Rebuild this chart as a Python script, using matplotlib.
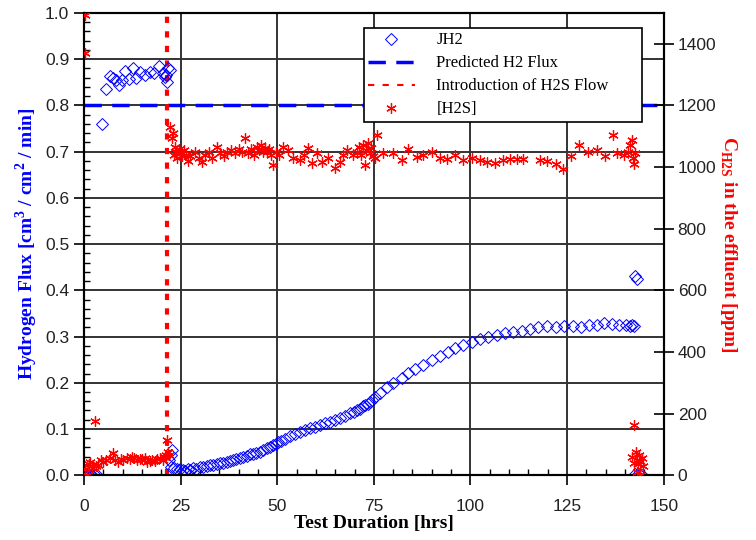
import matplotlib
matplotlib.use("Agg")
import matplotlib.pyplot as plt
from matplotlib.lines import Line2D
from matplotlib.ticker import MultipleLocator

plt.rcParams['mathtext.fontset'] = 'custom'
plt.rcParams['mathtext.rm'] = 'Liberation Serif'
plt.rcParams['mathtext.bf'] = 'Liberation Serif:bold'

# hydrogen flux through the membrane [cm3/cm2/min]
jh2_t = [0.0, 0.3, 0.7, 1.0, 1.4, 1.8, 2.2, 2.6, 3.2, 4.6,
         5.7, 6.7, 7.6, 8.4, 9.1, 9.8, 10.6, 11.7, 12.6, 13.5,
         14.5, 15.8, 17.1, 18.2, 19.4, 20.5, 21.0, 21.2, 21.5, 21.8, 22.2,
         22.1, 22.4, 22.7, 22.5, 23.3, 24.0, 24.8, 25.6, 26.2, 26.9,
         27.5, 28.2, 29.1, 30.0, 30.9, 31.8, 32.6, 33.4, 34.3, 35.2,
         36.1, 37.0, 37.8, 38.5, 39.4, 40.3, 41.2, 42.2, 42.9, 43.7,
         44.6, 45.5, 46.4, 47.3, 48.1, 48.9, 49.6, 50.2, 51.0, 52.0,
         53.3, 54.5, 55.9, 57.1, 58.4, 59.7, 61.0, 62.3, 63.6, 64.9,
         66.2, 67.5, 68.8, 69.8, 70.6, 71.3, 72.1, 72.8, 73.4, 74.0,
         74.6, 75.3, 76.5, 78.4, 79.9, 82.2, 83.8, 85.6, 87.7, 90.0,
         92.1, 94.1, 95.9, 98.0, 100.3, 102.4, 104.5, 106.8, 108.9, 111.0,
         113.3, 115.3, 117.4, 119.7, 122.0, 124.2, 126.4, 128.6, 130.7, 132.8,
         134.5, 136.5, 138.4, 140.2, 141.2, 141.8, 142.2, 142.5, 143.0,
         142.6, 143.2, 143.8, 144.3]
jh2_flux = [0.0, 0.001, 0.0, 0.002, 0.0, 0.001, 0.0, 0.003, 0.002, 0.76,
            0.835, 0.864, 0.859, 0.855, 0.844, 0.855, 0.874, 0.857, 0.881, 0.859,
            0.872, 0.866, 0.872, 0.870, 0.885, 0.870, 0.861, 0.866, 0.851, 0.881, 0.877,
            0.032, 0.043, 0.054, 0.017, 0.015, 0.014, 0.013, 0.011, 0.009, 0.013,
            0.012, 0.015, 0.014, 0.017, 0.018, 0.020, 0.021, 0.022, 0.025, 0.026,
            0.027, 0.028, 0.031, 0.032, 0.035, 0.037, 0.039, 0.041, 0.045, 0.045,
            0.048, 0.050, 0.055, 0.058, 0.062, 0.065, 0.068, 0.071, 0.075, 0.079,
            0.084, 0.089, 0.093, 0.098, 0.102, 0.105, 0.108, 0.112, 0.115, 0.119,
            0.123, 0.128, 0.134, 0.137, 0.141, 0.144, 0.149, 0.152, 0.155, 0.158,
            0.162, 0.169, 0.178, 0.190, 0.199, 0.210, 0.221, 0.229, 0.238, 0.249,
            0.258, 0.266, 0.275, 0.281, 0.288, 0.294, 0.299, 0.303, 0.307, 0.310,
            0.312, 0.316, 0.320, 0.322, 0.321, 0.322, 0.323, 0.321, 0.325, 0.326,
            0.330, 0.327, 0.324, 0.324, 0.322, 0.325, 0.323, 0.430, 0.425,
            0.002, 0.0, 0.001, 0.0]

# H2S concentration in the effluent [ppm]
h2s_t = [0.2, 0.4, 0.3, 0.8, 1.2, 1.6, 2.1, 2.8, 3.1, 3.6,
         4.3, 4.9, 5.8, 6.7, 7.5, 8.1, 8.8, 9.5, 10.1, 11.1,
         11.8, 12.4, 13.0, 13.7, 14.4, 15.0, 15.7, 16.3, 17.0, 17.6,
         18.3, 18.9, 19.7, 20.4, 20.9, 21.2, 21.5, 21.7, 22.0,
         22.2, 23.1, 22.8, 23.5, 23.3, 23.8, 24.2, 24.6, 25.0, 25.4,
         25.8, 26.3, 26.8, 27.5, 28.7, 29.8, 30.5, 31.4, 32.3, 33.2,
         34.4, 35.3, 36.2, 37.1, 38.0, 39.1, 40.0, 40.8, 41.6, 42.5,
         43.3, 44.0, 44.7, 45.2, 45.8, 46.3, 46.8, 47.3, 47.8, 48.3,
         49.0, 49.6, 50.4, 51.5, 52.8, 54.0, 55.9, 57.0, 58.0, 59.0,
         60.3, 61.5, 63.1, 64.9, 66.2, 67.0, 68.0, 69.6, 70.6, 71.2,
         71.6, 72.1, 72.7, 73.0, 73.5, 73.9, 74.3, 74.7, 75.3, 75.8,
         77.3, 79.9, 82.2, 83.8, 86.1, 87.7, 90.0, 92.1, 93.9, 95.9,
         98.0, 100.3, 102.4, 104.2, 106.3, 108.4, 110.2, 112.0, 113.5, 117.9,
         119.7, 122.0, 124.0, 126.0, 128.2, 130.5, 132.7, 134.8, 136.8, 137.9,
         139.8, 140.8, 141.3, 141.7, 142.0, 142.3, 142.6,
         142.4, 141.9, 142.3, 142.7, 143.0, 143.3, 143.6, 143.9, 144.3, 144.7,
         143.2, 143.8]
h2s_ppm = [1495, 1370, 20, 0, 35, 42, 23, 175, 30, 32,
           50, 42, 48, 55, 71, 50, 42, 53, 49, 55,
           52, 58, 55, 49, 53, 52, 56, 42, 47, 49,
           45, 52, 55, 49, 58, 65, 114, 75, 65,
           1130, 1110, 1095, 1065, 1040, 1050, 1030, 1060, 1045, 1035,
           1055, 1040, 1020, 1035, 1050, 1030, 1015, 1040, 1050, 1030,
           1065, 1045, 1035, 1050, 1055, 1045, 1060, 1050, 1094, 1045,
           1060, 1040, 1065, 1055, 1070, 1050, 1062, 1048, 1058, 1040,
           1006, 1050, 1040, 1065, 1055, 1030, 1023, 1040, 1062, 1013,
           1045, 1016, 1030, 997, 1016, 1040, 1055, 1039, 1050, 1065,
           1040, 1072, 1006, 1055, 1078, 1045, 1062, 1035, 1030, 1104,
           1045, 1045, 1023, 1058, 1032, 1039, 1049, 1030, 1026, 1039,
           1023, 1030, 1023, 1016, 1013, 1023, 1026, 1026, 1026, 1023,
           1019, 1010, 995, 1035, 1071, 1050, 1055, 1035, 1104, 1045,
           1040, 1050, 1070, 1088, 1030, 1010, 1045,
           162, 60, 40, 75, 50, 35, 65, 45, 55, 30,
           10, 0]

predicted_flux = 0.8
h2s_start = 21.5

serif = 'Liberation Serif'
sans = 'Liberation Sans'

fig = plt.figure(figsize=(7.56, 5.4), dpi=100)
ax = fig.add_axes([0.111, 0.12, 0.767, 0.856])
ax2 = ax.twinx()

ax.plot(jh2_t, jh2_flux, ls='none', marker='D', ms=6.5, mfc='none',
        mec='blue', mew=0.7, zorder=3)
ax.axhline(predicted_flux, color='blue', lw=2.5, ls=(0, (5, 3)), zorder=2)
ax.axvline(h2s_start, color='red', lw=3, ls=(0, (1.5, 2)), zorder=2)
ax2.plot(h2s_t, h2s_ppm, ls='none', marker=(6, 2, 0), ms=7.5,
         mec='red', mew=0.9, zorder=3)

ax.set_xlim(0, 150)
ax.set_ylim(0, 1.0)
ax2.set_ylim(0, 1500)

ax.xaxis.set_major_locator(MultipleLocator(25))
ax.xaxis.set_minor_locator(MultipleLocator(5))
ax.yaxis.set_major_locator(MultipleLocator(0.1))
ax.yaxis.set_minor_locator(MultipleLocator(0.02))
ax.yaxis.set_major_formatter(plt.FormatStrFormatter('%.1f'))
ax2.set_yticks(range(0, 1401, 200))

ax.grid(True, which='major', color='#333333', lw=1.4)
ax.set_axisbelow(True)

ax.tick_params(which='major', direction='out', length=7, width=1.2,
               labelsize=12.5, labelcolor='#222222')
ax.tick_params(axis='x', which='major', pad=10)
ax.tick_params(which='minor', direction='in', length=4, width=1)
ax2.tick_params(direction='inout', length=14, width=1.2, pad=3,
                labelsize=12.5, labelcolor='#222222')
for lab in ax.get_xticklabels() + ax.get_yticklabels() + ax2.get_yticklabels():
    lab.set_family(sans)

for a in (ax, ax2):
    for s in a.spines.values():
        s.set_linewidth(1.5)
        s.set_color('black')

ax.set_xlabel('Test Duration [hrs]', family=serif, fontweight='bold',
              fontsize=14, labelpad=1)
ax.set_ylabel(r'Hydrogen Flux [cm$^{\mathbf{3}}$ / cm$^{\mathbf{2}}$ / min]',
              family=serif, fontweight='bold', fontsize=14, color='blue',
              labelpad=4)
ax2.set_ylabel(r'C$_{\mathbf{H2S}}$ in the effluent [ppm]', family=serif,
               fontweight='bold', fontsize=14, color='red', rotation=270,
               labelpad=16)

handles = [
    Line2D([], [], ls='none', marker='D', ms=6.5, mfc='none', mec='blue', mew=0.7),
    Line2D([], [], color='blue', lw=2.5, ls=(0, (5, 3))),
    Line2D([], [], color='red', lw=1.5, ls=(0, (3, 4))),
    Line2D([], [], ls='none', marker=(6, 2, 0), ms=7.5, mec='red', mew=0.9),
]
labels = ['JH2', 'Predicted H2 Flux', 'Introduction of H2S Flow', '[H2S]']
leg = ax2.legend(handles, labels, loc='upper left',
                 bbox_to_anchor=(0.483, 0.967, 0.479, 0.0), mode='expand',
                 frameon=True, fancybox=False,
                 framealpha=1, edgecolor='black', borderpad=0.25,
                 labelspacing=0.42, handlelength=2.8, handletextpad=1.3,
                 borderaxespad=0, prop={'family': serif, 'size': 12})
leg.get_frame().set_linewidth(1.2)
leg.set_zorder(10)

fig.savefig('out.png', dpi=100)
